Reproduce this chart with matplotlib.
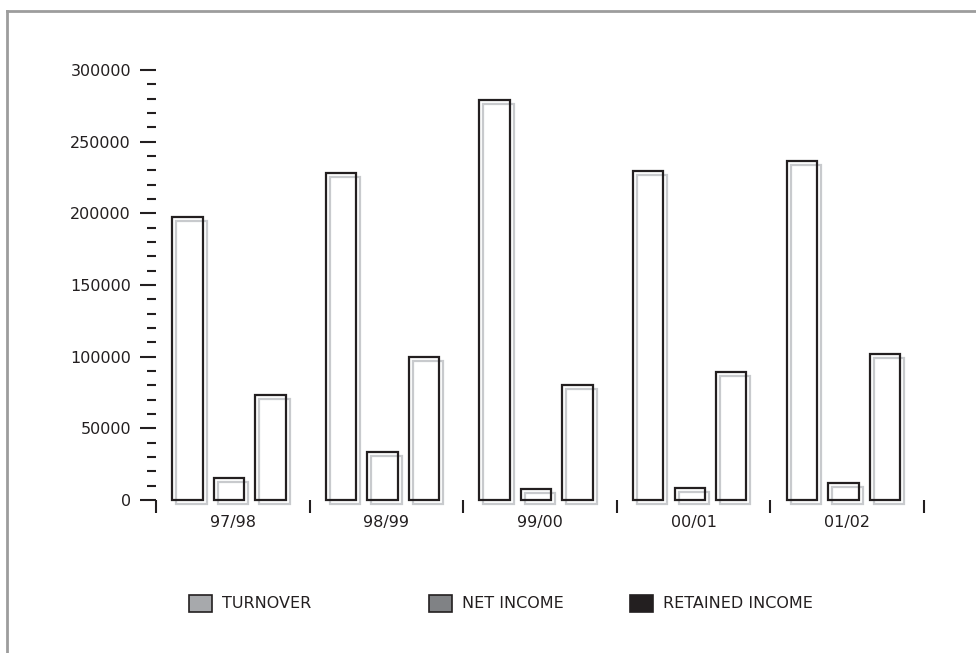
import numpy as np
import matplotlib
matplotlib.use("Agg")
import matplotlib.pyplot as plt
from matplotlib import font_manager
from matplotlib.patches import Rectangle
from matplotlib.lines import Line2D
import matplotlib.transforms as mtransforms

# datos
periodos = ['97/98', '98/99', '99/00', '00/01', '01/02']
turnover = [197500, 228000, 279000, 229500, 236500]
net_income = [15600, 33300, 7400, 8400, 11600]
retained_income = [73300, 100000, 80400, 89000, 101900]
series_nombres = ['TURNOVER', 'NET INCOME', 'RETAINED INCOME']
legend_colores = ['#a7a9ac', '#808285', '#231f20']

# fuente condensada si existe
nombres = {f.name for f in font_manager.fontManager.ttflist}
fuente = 'Liberation Sans Narrow' if 'Liberation Sans Narrow' in nombres else 'DejaVu Sans Condensed'
plt.rcParams['font.family'] = [fuente, 'DejaVu Sans']
TAM = 11.5 if fuente != 'Liberation Sans Narrow' else 13

TINTA = '#231f20'
SOMBRA = '#c8cacd'
DPI = 100

fig = plt.figure(figsize=(9.76, 6.53), dpi=DPI)
ax = fig.add_axes([156 / 976, 1 - 500 / 653, 768 / 976, 430 / 653])

x = np.arange(len(periodos))
ancho = 0.198
paso = 0.27
centro = 0.475
sombra_tr = ax.transData + mtransforms.ScaledTranslation(4 / DPI, -4 / DPI, fig.dpi_scale_trans)

for j, valores in enumerate([turnover, net_income, retained_income]):
    pos = x + centro + (j - 1) * paso
    # sombra gris desplazada
    ax.bar(pos, valores, width=ancho, facecolor='none', edgecolor=SOMBRA,
           linewidth=1.6, transform=sombra_tr, clip_on=False, zorder=1)
    ax.bar(pos, valores, width=ancho, facecolor='none', edgecolor=TINTA,
           linewidth=1.6, zorder=2, clip_on=False)

ax.set_xlim(0, len(periodos))
ax.set_ylim(0, 300000)

for s in ax.spines.values():
    s.set_visible(False)

ax.set_yticks(np.arange(0, 300001, 50000))
ax.set_yticklabels([f'{v}' for v in range(0, 300001, 50000)])
ax.set_yticks(np.arange(0, 300001, 10000), minor=True)
ax.tick_params(axis='y', which='major', direction='out', length=11.5, width=1.5,
               color=TINTA, labelsize=TAM, labelcolor=TINTA, pad=6.5)
ax.tick_params(axis='y', which='minor', direction='out', length=6.5, width=1.5, color=TINTA)

ax.set_xticks(np.arange(0, len(periodos) + 1))
ax.set_xticklabels([])
ax.set_xticks(x + 0.5, minor=True)
ax.set_xticklabels(periodos, minor=True)
ax.tick_params(axis='x', which='major', direction='out', length=9.5, width=1.5, color=TINTA)
ax.tick_params(axis='x', which='minor', length=0, labelsize=TAM, labelcolor=TINTA, pad=11)

# leyenda manual
ley_x = [189, 429, 630]
for nombre, color, lx in zip(series_nombres, legend_colores, ley_x):
    fig.patches.append(Rectangle((lx / 976, 1 - 612 / 653), 23 / 976, 17 / 653,
                                 transform=fig.transFigure, facecolor=color,
                                 edgecolor=TINTA, linewidth=1.2))
    fig.text((lx + 33) / 976, 1 - 603 / 653, nombre, fontsize=TAM, color=TINTA,
             va='center', ha='left')

# marco gris
fig.add_artist(Line2D([7 / 976, 1], [1 - 11 / 653, 1 - 11 / 653], transform=fig.transFigure,
                      color='#9d9d9d', linewidth=2))
fig.add_artist(Line2D([7 / 976, 7 / 976], [0, 1 - 11 / 653], transform=fig.transFigure,
                      color='#9d9d9d', linewidth=2))

fig.savefig('out.png', dpi=DPI)
